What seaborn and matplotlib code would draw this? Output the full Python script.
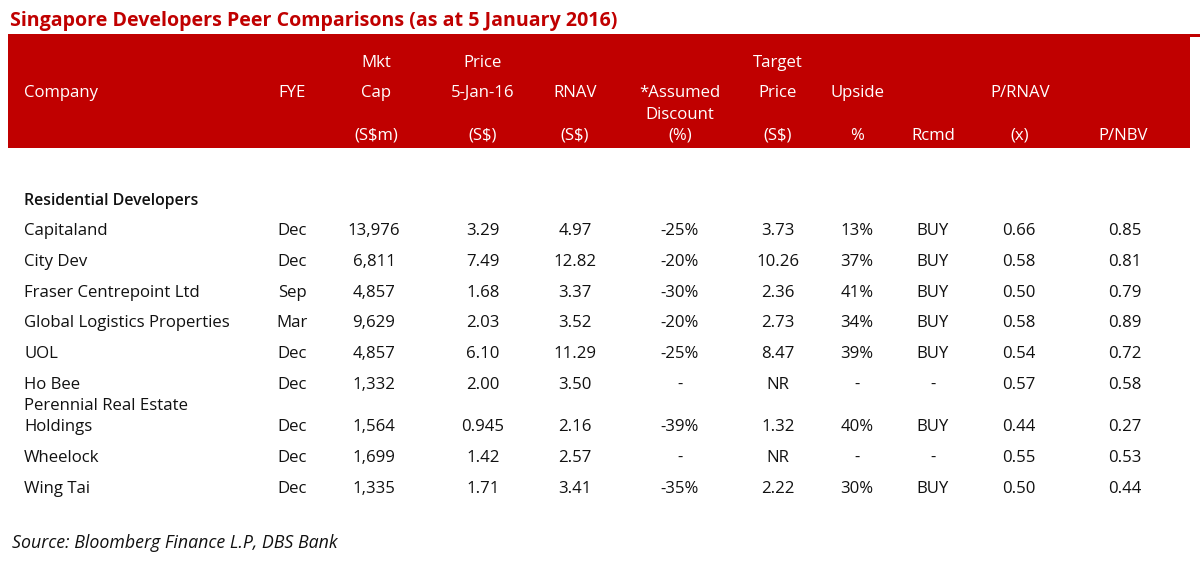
import matplotlib
matplotlib.use("Agg")
import matplotlib.pyplot as plt
import seaborn as sns
from matplotlib.patches import Rectangle

# Tabellendaten
title = "Singapore Developers Peer Comparisons (as at 5 January 2016)"
section = "Residential Developers"
source = "Source: Bloomberg Finance L.P, DBS Bank"

companies = ["Capitaland", "City Dev", "Fraser Centrepoint Ltd", "Global Logistics Properties",
             "UOL", "Ho Bee", "Perennial Real Estate\nHoldings", "Wheelock", "Wing Tai"]
fye = ["Dec", "Dec", "Sep", "Mar", "Dec", "Dec", "Dec", "Dec", "Dec"]
mkt_cap = ["13,976", "6,811", "4,857", "9,629", "4,857", "1,332", "1,564", "1,699", "1,335"]
price = ["3.29", "7.49", "1.68", "2.03", "6.10", "2.00", "0.945", "1.42", "1.71"]
rnav = ["4.97", "12.82", "3.37", "3.52", "11.29", "3.50", "2.16", "2.57", "3.41"]
discount = ["-25%", "-20%", "-30%", "-20%", "-25%", "-", "-39%", "-", "-35%"]
target = ["3.73", "10.26", "2.36", "2.73", "8.47", "NR", "1.32", "NR", "2.22"]
upside = ["13%", "37%", "41%", "34%", "39%", "-", "40%", "-", "30%"]
rcmd = ["BUY", "BUY", "BUY", "BUY", "BUY", "-", "BUY", "-", "BUY"]
p_rnav = ["0.66", "0.58", "0.50", "0.58", "0.54", "0.57", "0.44", "0.55", "0.50"]
p_nbv = ["0.85", "0.81", "0.79", "0.89", "0.72", "0.58", "0.27", "0.53", "0.44"]

# Kopfzeilen: (Zeile 1, Zeile 2, Zeile 3)
headers = [
    ("", "Company", ""),
    ("", "FYE", ""),
    ("Mkt", "Cap", "(S$m)"),
    ("Price", "5-Jan-16", "(S$)"),
    ("", "RNAV", "(S$)"),
    ("", "*Assumed\nDiscount", "(%)"),
    ("Target", "Price", "(S$)"),
    ("", "Upside", "%"),
    ("", "", "Rcmd"),
    ("", "P/RNAV", "(x)"),
    ("", "", "P/NBV"),
]

RED = "#C00000"
TXT = "#111111"

sns.set_theme(style="white")
plt.rcParams["font.family"] = ["Open Sans", "DejaVu Sans"]

fig = plt.figure(figsize=(12, 5.74), dpi=100)
ax = fig.add_axes([0, 0, 1, 1])
ax.set_xlim(0, 1200)
ax.set_ylim(574, 0)
ax.axis("off")

fs = 12.1
dy = 2  # kleine Verschiebung nach unten

# Titel
ax.text(10, 19 + dy, title, color=RED, fontsize=14.1, fontweight="bold", va="center", ha="left")

# roter Kopfbereich
ax.add_patch(Rectangle((8, 34), 1192, 3, color=RED, lw=0))
ax.add_patch(Rectangle((8, 36), 1182, 112, color=RED, lw=0))

col_x = [24, 292, 376, 483, 575, 680, 778, 857, 933, 1020, 1123]
head_y = [61, 91, 134]
for i, (h1, h2, h3) in enumerate(headers):
    ha = "left" if i == 0 else "center"
    if h1:
        ax.text(col_x[i], head_y[0] + dy, h1, color="white", fontsize=fs, ha=ha, va="center")
    if h2:
        if "\n" in h2:
            a, b = h2.split("\n")
            ax.text(col_x[i], head_y[1] + dy, a, color="white", fontsize=fs, ha=ha, va="center")
            ax.text(col_x[i], 113 + dy, b, color="white", fontsize=fs, ha=ha, va="center")
        else:
            ax.text(col_x[i], head_y[1] + dy, h2, color="white", fontsize=fs, ha=ha, va="center")
    if h3:
        ax.text(col_x[i], head_y[2] + dy, h3, color="white", fontsize=fs, ha=ha, va="center")

# Abschnitt
ax.text(24, 199 + dy, section, color=TXT, fontsize=11.4, fontweight="semibold", ha="left", va="center")

row_y = [229, 260, 291, 321, 352, 383, 425, 456, 487]
data_x = [24, 292, 374, 483, 575, 680, 778, 857, 933, 1019, 1125]
columns = [companies, fye, mkt_cap, price, rnav, discount, target, upside, rcmd, p_rnav, p_nbv]
for r, y in enumerate(row_y):
    for c, col in enumerate(columns):
        val = col[r]
        if c == 0 and "\n" in val:
            a, b = val.split("\n")
            ax.text(data_x[c], y - 21 + dy, a, color=TXT, fontsize=fs, ha="left", va="center")
            ax.text(data_x[c], y + dy, b, color=TXT, fontsize=fs, ha="left", va="center")
        else:
            ax.text(data_x[c], y + dy, val, color=TXT, fontsize=fs,
                    ha="left" if c == 0 else "center", va="center")

ax.text(12, 541 + dy, source, color=TXT, fontsize=12.8, style="italic", ha="left", va="center")

fig.savefig("out.png", dpi=100)
